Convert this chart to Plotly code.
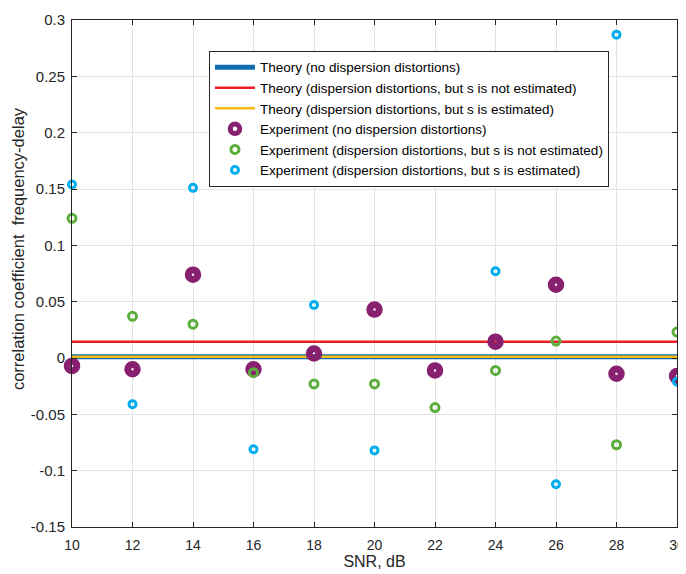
import plotly.graph_objects as go

snr = [10, 12, 14, 16, 18, 20, 22, 24, 26, 28, 30]

theory_no_disp = [0.001] * len(snr)
theory_s_not_est = [0.0145] * len(snr)
theory_s_est = [0.001] * len(snr)

exp_no_disp = [-0.007, -0.010, 0.074, -0.010, 0.004, 0.043, -0.011, 0.0145, 0.065, -0.014, -0.016]
exp_s_not_est = [0.124, 0.037, 0.030, -0.013, -0.023, -0.023, -0.044, -0.011, 0.015, -0.077, 0.023]
exp_s_est = [0.154, -0.041, 0.151, -0.081, 0.047, -0.082, None, 0.077, -0.112, 0.287, -0.021]

y_ticks = [-0.15, -0.1, -0.05, 0, 0.05, 0.1, 0.15, 0.2, 0.25, 0.3]
y_tick_text = ["-0.15", "-0.1", "-0.05", "0", "0.05", "0.1", "0.15", "0.2", "0.25", "0.3"]

x_title = "SNR, dB"
y_title = "correlation coefficient  frequency-delay"

FONT = "Liberation Sans, Arial, sans-serif"
AX = "#262626"

fig = go.Figure()
fig.add_trace(go.Scatter(x=snr, y=theory_no_disp, mode="lines",
                         line=dict(color="#0F6DB0", width=5),
                         name="Theory (no dispersion distortions)"))
fig.add_trace(go.Scatter(x=snr, y=theory_s_not_est, mode="lines",
                         line=dict(color="#EC1C24", width=2.5),
                         name="Theory (dispersion distortions, but s is not estimated)"))
fig.add_trace(go.Scatter(x=snr, y=theory_s_est, mode="lines",
                         line=dict(color="#F7BA12", width=2.5),
                         name="Theory (dispersion distortions, but s is estimated)"))
fig.add_trace(go.Scatter(x=snr, y=exp_no_disp, mode="markers", cliponaxis=False,
                         marker=dict(symbol="circle-open", size=9.5, color="#87206F",
                                     line=dict(color="#87206F", width=7)),
                         name="Experiment (no dispersion distortions)"))
fig.add_trace(go.Scatter(x=snr, y=exp_s_not_est, mode="markers", cliponaxis=False,
                         marker=dict(symbol="circle-open", size=8, color="#5BAE3A",
                                     line=dict(color="#5BAE3A", width=3)),
                         name="Experiment (dispersion distortions, but s is not estimated)"))
fig.add_trace(go.Scatter(x=snr, y=exp_s_est, mode="markers", cliponaxis=False,
                         marker=dict(symbol="circle-open", size=7, color="#00AEEF",
                                     line=dict(color="#00AEEF", width=3)),
                         name="Experiment (dispersion distortions, but s is estimated)"))

axis_common = dict(showline=True, linecolor=AX, linewidth=1, mirror="ticks",
                   ticks="inside", ticklen=5, tickcolor=AX,
                   showgrid=True, gridcolor="#E3E3E3", gridwidth=1,
                   zeroline=False, automargin=False)

fig.update_xaxes(range=[10, 30], tickvals=snr, ticktext=[str(v) for v in snr],
                 ticklabelstandoff=5, ticklabeloverflow="allow",
                 tickfont=dict(family=FONT, size=14, color=AX),
                 title=dict(text=x_title, font=dict(family=FONT, size=16, color=AX), standoff=3),
                 **axis_common)
fig.update_yaxes(range=[-0.15, 0.3], tickvals=y_ticks, ticktext=y_tick_text,
                 ticklabelstandoff=3, tickfont=dict(family=FONT, size=15, color=AX),
                 **axis_common)

fig.add_annotation(text=y_title, textangle=-90, showarrow=False,
                   xref="paper", yref="paper", x=-0.0893, y=0.55,
                   xanchor="center", yanchor="middle",
                   font=dict(family=FONT, size=16.5, color=AX))

fig.update_layout(
    width=678, height=566,
    margin=dict(l=64, r=9, t=12, b=47),
    plot_bgcolor="white", paper_bgcolor="white",
    font=dict(family=FONT, size=14, color=AX),
    legend=dict(x=0.2264, y=0.939, xanchor="left", yanchor="top",
                bgcolor="white", bordercolor=AX, borderwidth=1,
                font=dict(family=FONT, size=13.5, color="#000000"),
                tracegroupgap=0, itemwidth=40),
    showlegend=True,
)

fig.write_html("out.html")
